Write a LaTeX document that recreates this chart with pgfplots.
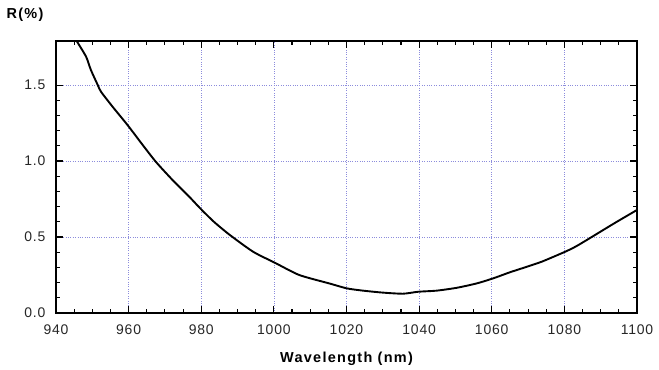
\documentclass[border=0pt]{standalone}
\usepackage{pgfplots}
\pgfplotsset{compat=1.18}
\usepackage{fontspec}
\setmainfont{Liberation Sans}
\newfontfamily\tickfont[LetterSpace=6]{Liberation Sans}
\newfontfamily\labfont[LetterSpace=9]{Liberation Sans Bold}
\definecolor{gridc}{RGB}{140,140,220}
\begin{document}
\begin{tikzpicture}
\path (-56bp,-57bp) rectangle (603bp,313bp);
\begin{axis}[
  scale only axis,
  width=581bp, height=272bp,
  at={(0,0)}, anchor=south west,
  xmin=940, xmax=1100, ymin=0, ymax=1.79,
  xtick={940,960,...,1100},
  ytick={0,0.5,1.0,1.5},
  minor x tick num=3,
  minor y tick num=4,
  tick align=inside,
  major tick length=7bp,
  minor tick length=4.5bp,
  tick style={black, line width=1.1bp},
  axis line style={black, line width=1.3bp},
  xmajorgrids, ymajorgrids,
  major grid style={gridc, dotted, line width=0.7bp},
  yticklabel style={/pgf/number format/fixed, /pgf/number format/fixed zerofill, /pgf/number format/precision=1, xshift=-7bp},
  xticklabel style={/pgf/number format/1000 sep={}, yshift=-8bp},
  /pgf/number format/assume math mode=true,
  tick label style={font=\tickfont\fontsize{14}{16}\selectfont, text=black!85},
  xlabel={Wavelength (nm)},
  xlabel style={font=\labfont\fontsize{14.5}{16}\selectfont, yshift=-11bp},
  ylabel={R(\%)},
  ylabel style={font=\labfont\fontsize{14.5}{16}\selectfont, rotate=-90, at={(axis description cs:0,1)}, anchor=center, xshift=-31bp, yshift=26bp},
  clip=true,
]
\addplot[black, line width=1.9bp, smooth, tension=0.4] coordinates {
(945.0,1.82)
(945.7,1.79)
(948.3,1.686)
(949.6,1.60)
(951.5,1.50)
(952.4,1.456)
(955.6,1.357)
(959.7,1.237)
(963.9,1.105)
(967.5,0.995)
(972.1,0.875)
(976.7,0.765)
(979.7,0.689)
(983.5,0.600)
(987.9,0.513)
(994.3,0.403)
(1000.5,0.328)
(1007.0,0.250)
(1015.5,0.193)
(1020.1,0.162)
(1024.6,0.147)
(1030.1,0.134)
(1035.6,0.127)
(1039.8,0.140)
(1044.8,0.147)
(1050.4,0.166)
(1055.9,0.195)
(1060.4,0.228)
(1065.0,0.268)
(1069.5,0.303)
(1073.8,0.338)
(1080.2,0.403)
(1083.4,0.441)
(1088.0,0.507)
(1094.0,0.594)
(1100,0.678)
};
\end{axis}
\end{tikzpicture}
\end{document}
